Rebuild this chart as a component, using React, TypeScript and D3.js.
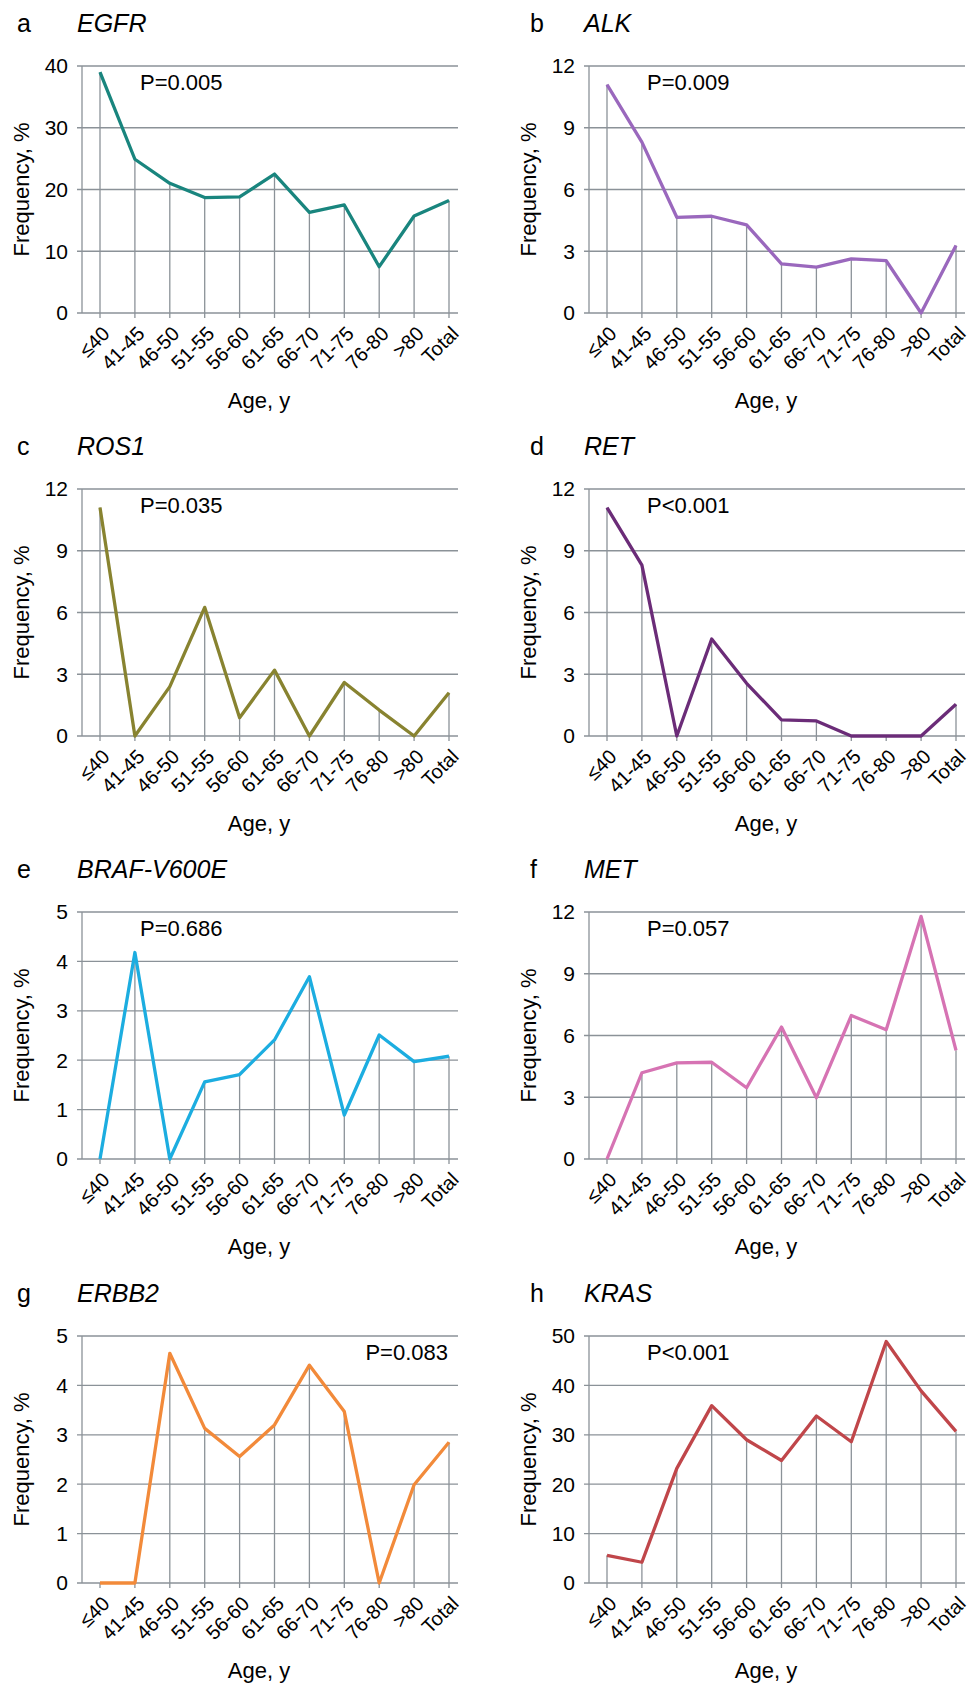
import * as d3 from 'd3'

const ageGroups = ['≤40', '41-45', '46-50', '51-55', '56-60', '61-65', '66-70', '71-75', '76-80', '>80', 'Total']

const egfr = [39.0, 24.9, 21.0, 18.7, 18.8, 22.5, 16.3, 17.5, 7.5, 15.7, 18.2]
const alk = [11.1, 8.3, 4.65, 4.7, 4.28, 2.39, 2.23, 2.63, 2.54, 0, 3.28]
const ros1 = [11.1, 0, 2.4, 6.25, 0.89, 3.2, 0, 2.6, 1.26, 0, 2.1]
const ret = [11.1, 8.3, 0, 4.71, 2.56, 0.78, 0.73, 0, 0, 0, 1.54]
const braf = [0, 4.18, 0, 1.56, 1.71, 2.41, 3.69, 0.89, 2.51, 1.97, 2.08]
const met = [0, 4.19, 4.67, 4.7, 3.46, 6.41, 2.98, 6.97, 6.28, 11.79, 5.28]
const erbb2 = [0, 0, 4.65, 3.13, 2.56, 3.2, 4.41, 3.47, 0, 1.99, 2.85]
const kras = [5.6, 4.2, 23.2, 35.9, 29.0, 24.8, 33.8, 28.6, 48.9, 38.9, 30.7]

const letters = ['a', 'b', 'c', 'd', 'e', 'f', 'g', 'h']
const genes = ['EGFR', 'ALK', 'ROS1', 'RET', 'BRAF-V600E', 'MET', 'ERBB2', 'KRAS']
const pValues = ['P=0.005', 'P=0.009', 'P=0.035', 'P<0.001', 'P=0.686', 'P=0.057', 'P=0.083', 'P<0.001']
const yMax = [40, 12, 12, 12, 5, 12, 5, 50]
const yStep = [10, 3, 3, 3, 1, 3, 1, 10]
const colours = ['#19857e', '#9a68bd', '#888330', '#6b2c78', '#1cade0', '#d673b3', '#f28a3a', '#c0464a']
const seriesList = [egfr, alk, ros1, ret, braf, met, erbb2, kras]

const W = 969
const H = 1685
const colLeft = [82, 589]
const rowTop = [66, 489, 912, 1336]
const plotH = 247
const grid = '#8b9298'
const font = 'Liberation Sans, Arial, sans-serif'

function Panel({ i }: { i: number }) {
  const ax = colLeft[i % 2]
  const top = rowTop[Math.floor(i / 2)]
  const bottom = top + plotH
  const values = seriesList[i]

  const x = d3.scalePoint<string>().domain(ageGroups).range([ax + 18, ax + 367])
  const y = d3.scaleLinear().domain([0, yMax[i]]).range([bottom, top])
  const ticks = d3.range(0, yMax[i] + yStep[i] / 2, yStep[i])
  const line = d3.line<number>()
    .x((_, k) => x(ageGroups[k])!)
    .y(d => y(d))

  // ERBB2 puts its P value at the right
  const pRight = i === 6

  return (
    <g>
      <text x={i % 2 ? ax - 59 : ax - 65} y={top - 34} fontSize={25} fontFamily={font}>{letters[i]}</text>
      <text x={ax - 5} y={top - 34} fontSize={25} fontStyle="italic" fontFamily={font}>{genes[i]}</text>

      {ticks.map(t => (
        <g key={t}>
          <line x1={ax - 5} x2={ax + 376} y1={y(t)} y2={y(t)} stroke={grid} strokeWidth={1.3} />
          <text x={ax - 14} y={y(t)} dy="0.35em" textAnchor="end" fontSize={21} fontFamily={font}>{t}</text>
        </g>
      ))}
      <line x1={ax} x2={ax} y1={top} y2={bottom} stroke={grid} strokeWidth={1.3} />

      {values.map((v, k) => (
        <line key={k} x1={x(ageGroups[k])} x2={x(ageGroups[k])} y1={y(v)} y2={bottom + 5} stroke={grid} strokeWidth={1.3} />
      ))}

      <path d={line(values)!} fill="none" stroke={colours[i]} strokeWidth={3.3} strokeLinejoin="round" />

      {ageGroups.map(g => (
        <text key={g} transform={`translate(${x(g)! + 1},${bottom + 12}) rotate(-45)`} textAnchor="end" dy="0.7em" fontSize={20} fontFamily={font}>{g}</text>
      ))}

      <text x={pRight ? ax + 366 : ax + 58} y={top + 24} textAnchor={pRight ? 'end' : 'start'} fontSize={22} fontFamily={font}>{pValues[i]}</text>

      <text transform={`translate(${ax - 61},${(top + bottom) / 2}) rotate(-90)`} textAnchor="middle" dy="0.35em" fontSize={22} fontFamily={font}>Frequency, %</text>
      <text x={ax + 177} y={bottom + 95} textAnchor="middle" fontSize={22} fontFamily={font}>Age, y</text>
    </g>
  )
}

export default function App() {
  return (
    <svg width={W} height={H} style={{ position: 'absolute', left: 0, top: 0, background: '#fff' }}>
      {genes.map((_, i) => <Panel key={i} i={i} />)}
    </svg>
  )
}
